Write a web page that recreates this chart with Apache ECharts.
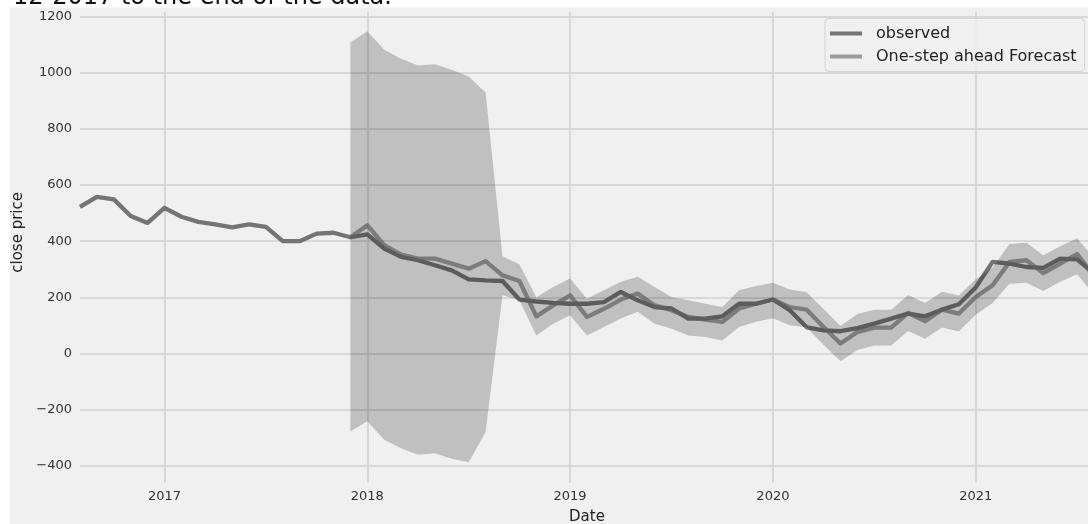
<!DOCTYPE html>
<html>
<head>
<meta charset="utf-8">
<script src="https://cdn.jsdelivr.net/npm/echarts@6/dist/echarts.min.js"></script>
<style>
  html, body { margin: 0; padding: 0; background: #ffffff; }
  #chart { width: 1088px; height: 524px; }
</style>
</head>
<body>
<div id="chart"></div>
<script>
// Monthly dates of the close-price series
const dates = [
  '2016-08','2016-09','2016-10','2016-11','2016-12',
  '2017-01','2017-02','2017-03','2017-04','2017-05','2017-06','2017-07','2017-08','2017-09','2017-10','2017-11','2017-12',
  '2018-01','2018-02','2018-03','2018-04','2018-05','2018-06','2018-07','2018-08','2018-09','2018-10','2018-11','2018-12',
  '2019-01','2019-02','2019-03','2019-04','2019-05','2019-06','2019-07','2019-08','2019-09','2019-10','2019-11','2019-12',
  '2020-01','2020-02','2020-03','2020-04','2020-05','2020-06','2020-07','2020-08','2020-09','2020-10','2020-11','2020-12',
  '2021-01','2021-02','2021-03','2021-04','2021-05','2021-06','2021-07','2021-08'
];

// Observed monthly close price
const observed = [
  522, 558, 549, 490, 465,
  519, 487, 469, 460, 449, 460, 451, 400, 400, 427, 430, 414,
  424, 374, 344, 332, 314, 296, 264, 260, 258, 192, 185, 180,
  177, 177, 183, 219, 189, 165, 160, 124, 124, 132, 177, 177,
  192, 154, 93, 82, 79, 90, 106, 124, 142, 132, 156, 175,
  235, 326, 320, 308, 305, 338, 335, 285
];

// One-step ahead forecast, starting 2017-12
const forecastStart = '2017-12';
const forecast = [
  414,
  457, 386, 352, 338, 338, 320, 302, 329, 278, 258, 132, 171,
  207, 130, 159, 192, 213, 171, 154, 130, 120, 112, 160, 177,
  192, 165, 156, 94, 35, 76, 92, 92, 144, 115, 156, 142,
  201, 243, 326, 332, 286, 320, 354, 275
];

// Confidence interval of the forecast
const ciLower = [
  -278,
  -242, -308, -338, -361, -356, -376, -388, -281, 207, 189, 64, 106,
  136, 64, 94, 124, 148, 106, 88, 64, 58, 46, 94, 113,
  125, 100, 92, 30, -28, 12, 28, 28, 80, 52, 92, 78,
  138, 180, 248, 252, 222, 255, 282, 210
];
const ciUpper = [
  1108,
  1148, 1082, 1050, 1026, 1031, 1011, 987, 930, 346, 318, 200, 237,
  267, 195, 225, 255, 273, 237, 201, 189, 177, 165, 225, 240,
  252, 228, 218, 158, 98, 140, 156, 156, 208, 180, 220, 206,
  264, 306, 390, 394, 350, 382, 410, 340
];

const yearTicks = [2017, 2018, 2019, 2020, 2021];
const priceTicks = [-400, -200, 0, 200, 400, 600, 800, 1000, 1200];

// month offset from January 2017
function monthIndex(s) {
  const [y, m] = s.split('-').map(Number);
  return (y - 2017) * 12 + (m - 1);
}
const startIdx = dates.indexOf(forecastStart);
const xs = dates.map(monthIndex);
const fx = xs.slice(startIdx);

const obsData = xs.map((x, i) => [x, observed[i]]);
const fcData = fx.map((x, i) => [x, forecast[i]]);
const ciData = fx.map((x, i) => [x, ciLower[i], ciUpper[i]]);

// confidence band drawn as one polygon: upper edge forward, lower edge back
function renderBand(params, api) {
  if (params.dataIndex !== 0) return null;
  const pts = [];
  for (let i = 0; i < fx.length; i++) pts.push(api.coord([fx[i], ciUpper[i]]));
  for (let i = fx.length - 1; i >= 0; i--) pts.push(api.coord([fx[i], ciLower[i]]));
  return {
    type: 'polygon',
    shape: { points: pts },
    style: { fill: 'rgba(0,0,0,0.2)' }
  };
}

const FONT = 'DejaVu Sans';
const chart = echarts.init(document.getElementById('chart'), null, { renderer: 'canvas' });

chart.setOption({
  animation: false,
  backgroundColor: '#ffffff',
  textStyle: { fontFamily: FONT },
  graphic: [
    {
      type: 'rect', z: -100, silent: true,
      shape: { x: 10, y: 7.5, width: 1100, height: 530 },
      style: { fill: '#f0f0f0' }
    },
    {
      type: 'text', z: 100, silent: true,
      style: {
        x: 13, y: 10, text: '12-2017 to the end of the data.',
        font: '24px "DejaVu Sans"', fill: '#111111',
        verticalAlign: 'bottom', align: 'left'
      }
    }
  ],
  grid: {
    left: 80, right: -6, top: 11.7, bottom: 41,
    containLabel: false, outerBoundsMode: 'none'
  },
  legend: {
    orient: 'vertical',
    left: 825, top: 18.5,
    padding: [6, 8, 6, 5],
    itemGap: 5,
    itemWidth: 32, itemHeight: 4,
    icon: 'rect',
    backgroundColor: 'rgba(240,240,240,0.8)',
    borderColor: '#d4d4d4', borderWidth: 1, borderRadius: 4,
    textStyle: { fontFamily: FONT, fontSize: 16, color: '#222222', lineHeight: 18, padding: [0, 0, 0, 9] },
    data: [
      { name: 'observed', itemStyle: { color: '#747474' } },
      { name: 'One-step ahead Forecast', itemStyle: { color: '#9b9b9b' } }
    ]
  },
  xAxis: {
    type: 'value',
    min: monthIndex(dates[0]),
    max: monthIndex(dates[dates.length - 1]),
    name: 'Date',
    nameLocation: 'middle',
    nameGap: 27,
    nameTextStyle: { fontFamily: FONT, fontSize: 15, color: '#222222' },
    axisLine: { show: false },
    axisTick: { show: false, customValues: yearTicks.map(y => (y - 2017) * 12) },
    axisLabel: {
      customValues: yearTicks.map(y => (y - 2017) * 12),
      formatter: v => String(2017 + Math.round(v / 12)),
      fontFamily: FONT, fontSize: 13, color: '#333333', margin: 7
    },
    splitLine: { show: true, lineStyle: { color: '#d0d0d0', width: 1.5 } }
  },
  yAxis: {
    type: 'value',
    min: -462, max: 1218,
    name: 'close price',
    nameLocation: 'middle',
    nameGap: 51,
    nameTextStyle: { fontFamily: FONT, fontSize: 15, color: '#222222', padding: [0, 0, 0, 30] },
    axisLine: { show: false },
    axisTick: { show: false, customValues: priceTicks },
    axisLabel: {
      customValues: priceTicks,
      formatter: v => (v < 0 ? '\u2212' + Math.abs(v) : String(v)),
      fontFamily: FONT, fontSize: 13, color: '#333333', margin: 8
    },
    splitLine: { show: true, lineStyle: { color: '#d0d0d0', width: 1.5 } }
  },
  series: [
    {
      name: 'observed', type: 'line', data: obsData, z: 2,
      showSymbol: false, symbol: 'none',
      lineStyle: { color: '#747474', width: 4.3, join: 'round' },
      itemStyle: { color: '#747474' }
    },
    {
      name: 'One-step ahead Forecast', type: 'line', data: fcData, z: 3,
      showSymbol: false, symbol: 'none',
      lineStyle: { color: '#777777', width: 4.3, opacity: 0.7, join: 'round' },
      itemStyle: { color: '#9b9b9b' }
    },
    {
      name: 'confidence interval', type: 'custom', data: ciData, z: 4,
      silent: true, clip: true,
      encode: { x: 0, y: [1, 2] },
      renderItem: renderBand
    }
  ]
});
</script>
</body>
</html>
